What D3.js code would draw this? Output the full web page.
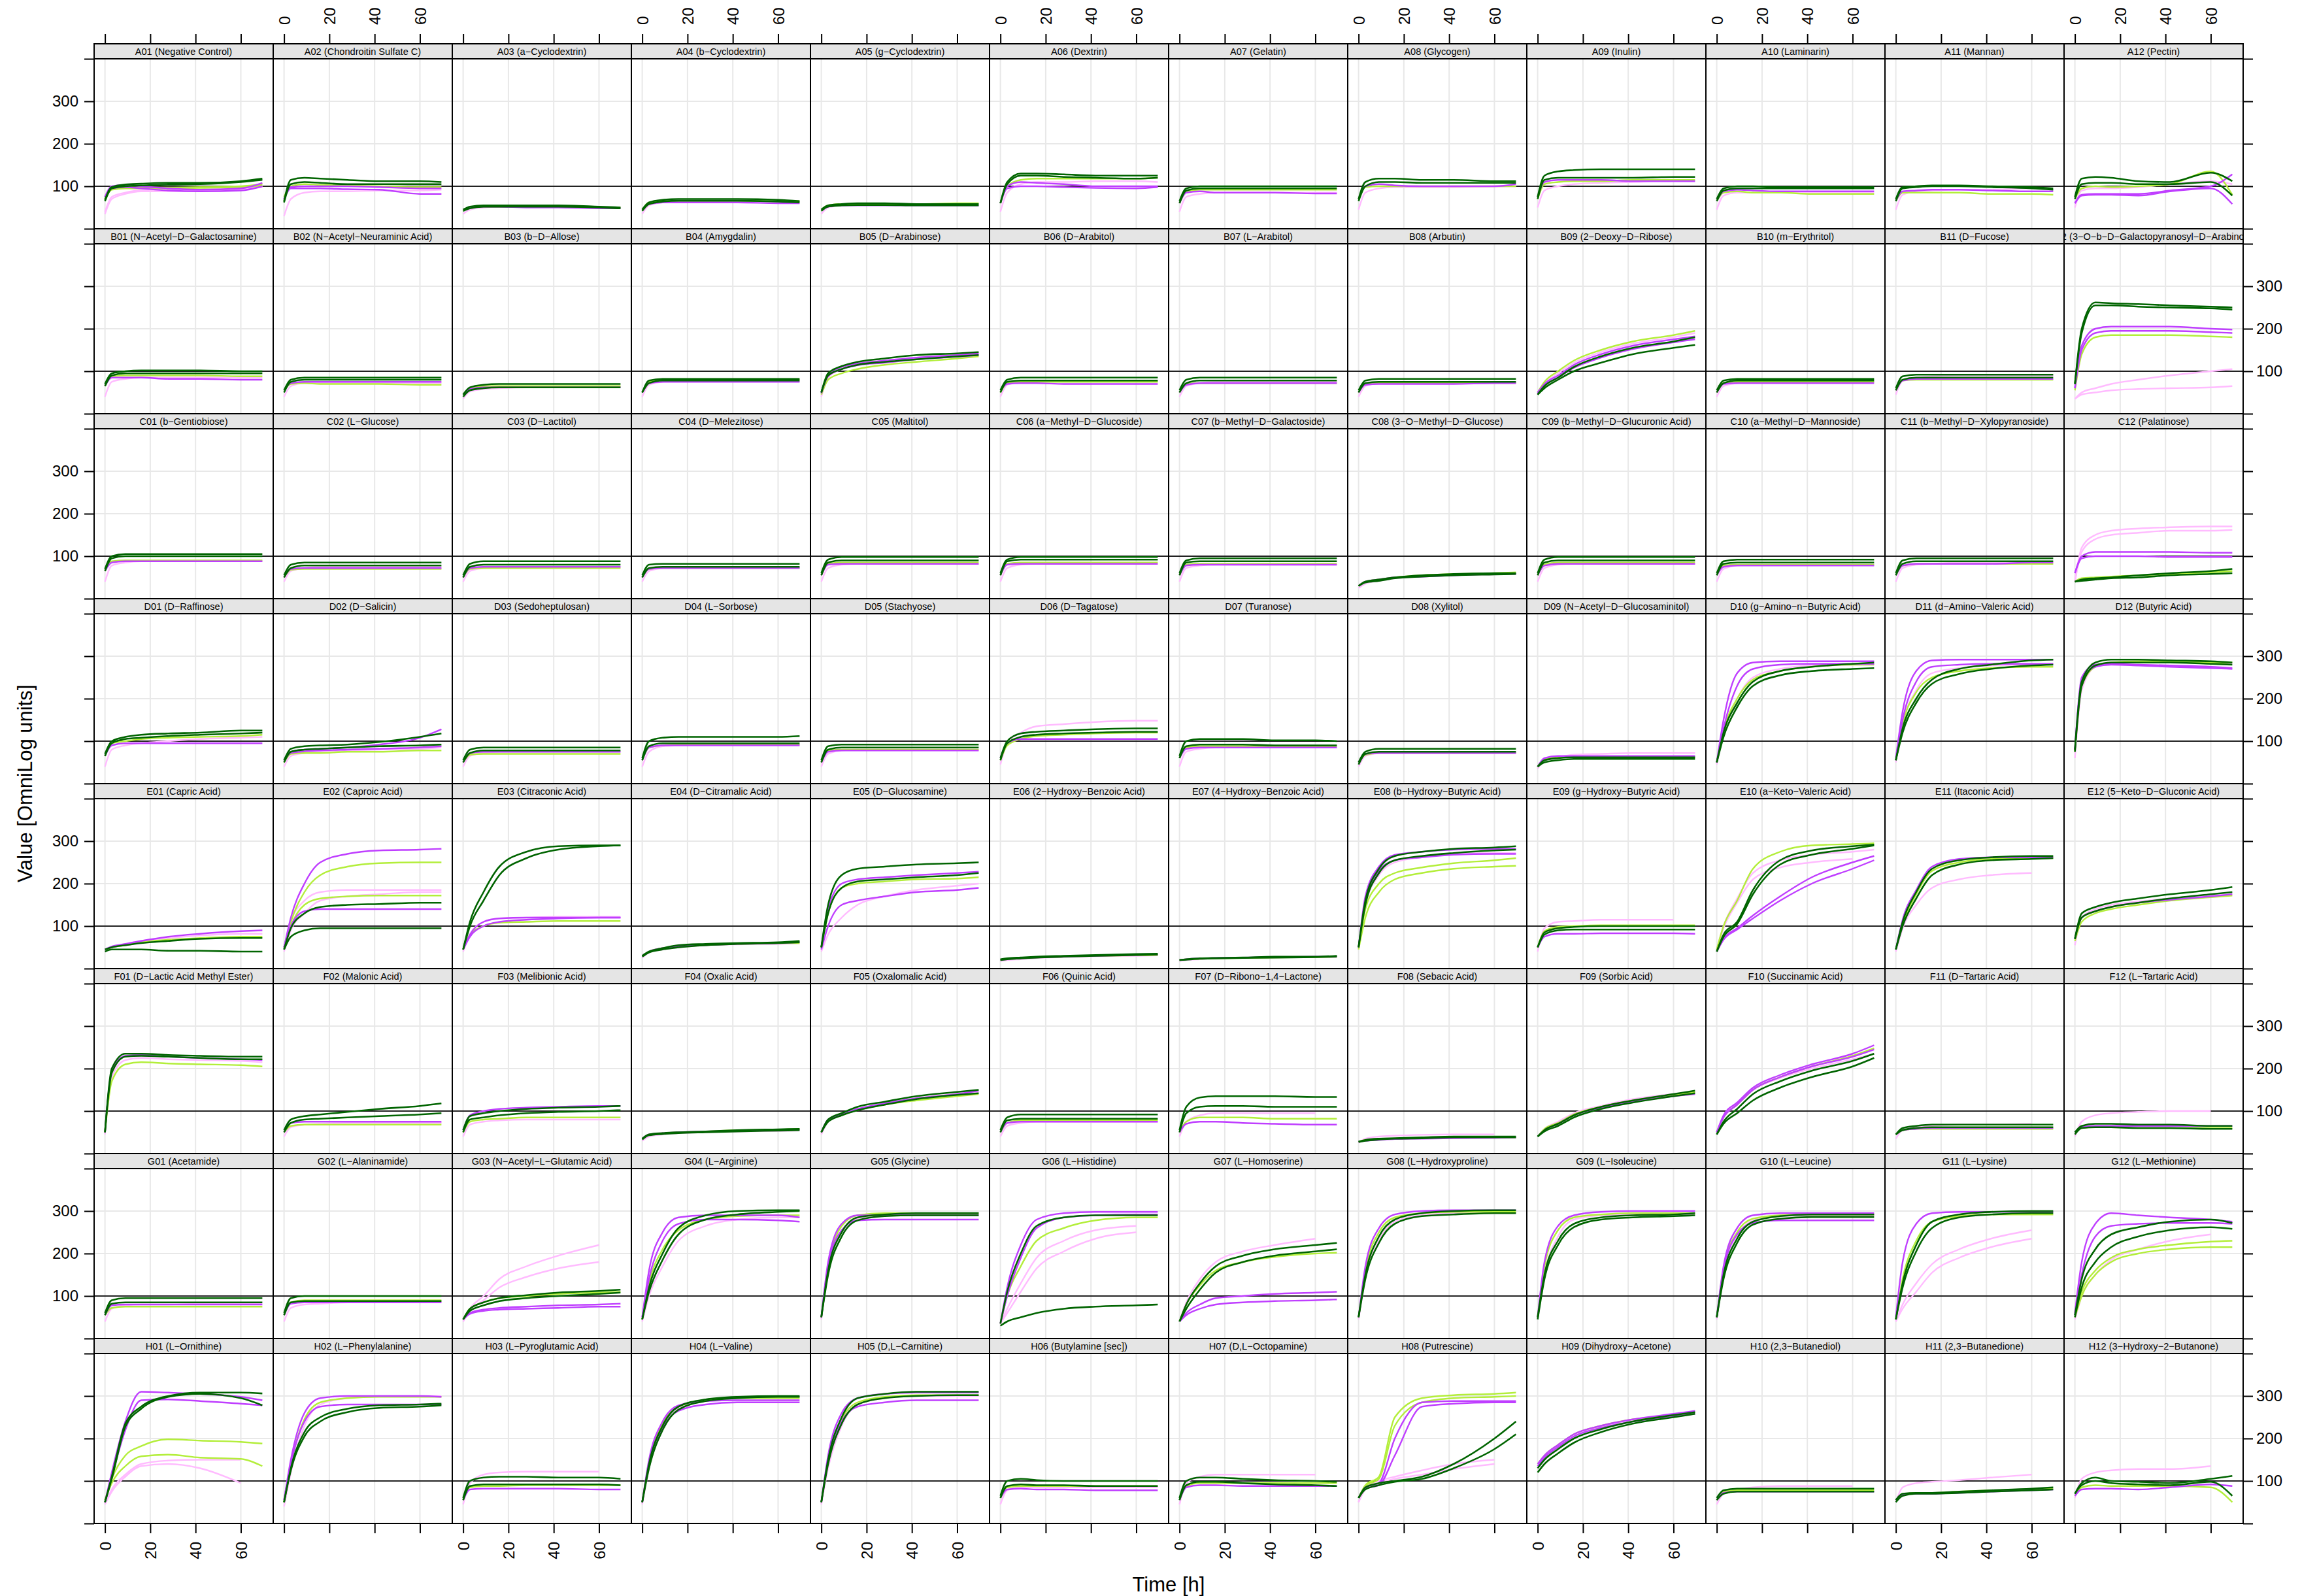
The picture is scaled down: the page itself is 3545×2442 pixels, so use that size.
<!DOCTYPE html>
<html lang="en">
<head>
<meta charset="UTF-8"/>
<title>OmniLog PM02 kinetics</title>
<script src="https://d3js.org/d3.v7.min.js"></script>
<style>
  body { margin: 0; background: #fff; }
  svg { display: block; font-family: "Liberation Sans", Arial, Helvetica, sans-serif; }
</style>
</head>
<body>
<script>

// ---- data (in OmniLog units) ----
var rowLetters = ["A", "B", "C", "D", "E", "F", "G", "H"];
var colNumbers = ["01", "02", "03", "04", "05", "06", "07", "08", "09", "10", "11", "12"];

var substrates = [
  "Negative Control", "Chondroitin Sulfate C", "a\u2212Cyclodextrin", "b\u2212Cyclodextrin", "g\u2212Cyclodextrin", "Dextrin", "Gelatin", "Glycogen", "Inulin", "Laminarin", "Mannan", "Pectin",
  "N\u2212Acetyl\u2212D\u2212Galactosamine", "N\u2212Acetyl\u2212Neuraminic Acid", "b\u2212D\u2212Allose", "Amygdalin", "D\u2212Arabinose", "D\u2212Arabitol", "L\u2212Arabitol", "Arbutin", "2\u2212Deoxy\u2212D\u2212Ribose", "m\u2212Erythritol", "D\u2212Fucose", "3\u2212O\u2212b\u2212D\u2212Galactopyranosyl\u2212D\u2212Arabinose",
  "b\u2212Gentiobiose", "L\u2212Glucose", "D\u2212Lactitol", "D\u2212Melezitose", "Maltitol", "a\u2212Methyl\u2212D\u2212Glucoside", "b\u2212Methyl\u2212D\u2212Galactoside", "3\u2212O\u2212Methyl\u2212D\u2212Glucose", "b\u2212Methyl\u2212D\u2212Glucuronic Acid", "a\u2212Methyl\u2212D\u2212Mannoside", "b\u2212Methyl\u2212D\u2212Xylopyranoside", "Palatinose",
  "D\u2212Raffinose", "D\u2212Salicin", "Sedoheptulosan", "L\u2212Sorbose", "Stachyose", "D\u2212Tagatose", "Turanose", "Xylitol", "N\u2212Acetyl\u2212D\u2212Glucosaminitol", "g\u2212Amino\u2212n\u2212Butyric Acid", "d\u2212Amino\u2212Valeric Acid", "Butyric Acid",
  "Capric Acid", "Caproic Acid", "Citraconic Acid", "D\u2212Citramalic Acid", "D\u2212Glucosamine", "2\u2212Hydroxy\u2212Benzoic Acid", "4\u2212Hydroxy\u2212Benzoic Acid", "b\u2212Hydroxy\u2212Butyric Acid", "g\u2212Hydroxy\u2212Butyric Acid", "a\u2212Keto\u2212Valeric Acid", "Itaconic Acid", "5\u2212Keto\u2212D\u2212Gluconic Acid",
  "D\u2212Lactic Acid Methyl Ester", "Malonic Acid", "Melibionic Acid", "Oxalic Acid", "Oxalomalic Acid", "Quinic Acid", "D\u2212Ribono\u22121,4\u2212Lactone", "Sebacic Acid", "Sorbic Acid", "Succinamic Acid", "D\u2212Tartaric Acid", "L\u2212Tartaric Acid",
  "Acetamide", "L\u2212Alaninamide", "N\u2212Acetyl\u2212L\u2212Glutamic Acid", "L\u2212Arginine", "Glycine", "L\u2212Histidine", "L\u2212Homoserine", "L\u2212Hydroxyproline", "L\u2212Isoleucine", "L\u2212Leucine", "L\u2212Lysine", "L\u2212Methionine",
  "L\u2212Ornithine", "L\u2212Phenylalanine", "L\u2212Pyroglutamic Acid", "L\u2212Valine", "D,L\u2212Carnitine", "Butylamine [sec]", "D,L\u2212Octopamine", "Putrescine", "Dihydroxy\u2212Acetone", "2,3\u2212Butanediol", "2,3\u2212Butanedione", "3\u2212Hydroxy\u22122\u2212Butanone"
];

// measurement times [h] for every value in a curve string
var times = [0, 3, 9, 16, 28, 42, 60, 69.5];

// one entry per well (A01..H12); curves separated by "|", "-" = no reading
var darkGreen = [
  "68 98 104 106 108 108 112 118|65 95 100 102 104 105 110 115", "65 115 120 118 115 112 112 110|62 105 110 108 105 105 105 105", "45 52 55 55 55 55 52 50|42 48 52 52 52 52 50 48", "45 62 68 70 70 70 68 65|42 58 64 66 66 66 64 62", "45 55 58 60 60 58 58 58|42 52 55 56 56 55 55 55", "60 110 130 130 128 125 125 125|60 105 125 125 122 120 118 120", "65 95 100 100 100 100 100 100|60 90 95 95 95 95 95 95", "70 110 118 118 115 115 112 112|65 100 110 110 108 108 108 108", "75 125 135 138 140 140 140 140|70 115 120 120 120 120 122 122", "70 95 100 100 98 98 98 98|65 90 95 95 95 95 95 95", "70 98 100 102 102 100 98 95|65 95 98 100 100 98 95 92", "75 118 122 120 112 110 132 112|70 105 108 108 105 105 110 78",
  "70 95 100 102 102 102 100 100|65 90 95 95 95 95 95 95", "55 80 85 85 85 85 85 85|50 75 80 80 80 80 80 80", "45 62 68 70 70 70 70 70|40 55 60 62 62 62 62 62", "50 78 82 82 82 82 82 82|50 72 78 78 78 78 78 78", "50 95 112 122 130 138 142 145|50 90 105 115 122 128 135 138", "55 80 85 85 85 85 85 85|50 75 78 78 78 78 78 78", "55 80 85 85 85 85 85 85|50 72 78 78 78 78 78 78", "55 78 82 82 82 82 82 82|50 72 75 75 75 75 75 75", "45 65 85 110 135 155 170 180|45 60 80 100 120 140 155 162", "55 78 82 82 82 82 82 82|50 72 78 78 78 78 78 78", "60 88 92 92 92 92 92 92|55 80 85 85 85 85 85 85", "70 200 262 260 258 255 252 250|70 190 255 255 252 250 248 245",
  "70 100 105 105 105 105 105 105|65 95 100 100 100 100 100 100", "55 80 85 85 85 85 85 85|50 72 78 78 78 78 78 78", "55 82 88 88 88 88 88 88|50 75 80 80 80 80 80 80", "55 80 82 82 82 82 82 82|50 72 75 75 75 75 75 75", "60 92 98 98 98 98 98 98|55 85 90 90 90 90 90 90", "60 92 98 98 98 98 98 98|55 88 92 92 92 92 92 92", "60 90 95 95 95 95 95 95|55 85 88 88 88 88 88 88", "30 40 45 50 55 58 60 60|30 38 42 48 52 55 57 58", "60 92 98 98 98 98 98 98|55 85 90 90 90 90 90 90", "60 88 92 92 92 92 92 92|55 82 85 85 85 85 85 85", "60 90 95 95 95 95 95 95|55 82 88 88 88 88 88 88", "40 45 48 50 55 60 65 70|40 42 45 48 50 55 58 60",
  "70 100 110 115 118 120 125 125|65 95 105 108 112 115 118 120", "55 82 88 90 92 98 110 118|50 75 80 82 85 88 90 92", "55 80 85 85 85 85 85 85|50 72 78 78 78 78 78 78", "60 100 108 110 110 110 110 112|55 88 95 95 95 95 95 95", "55 88 92 92 92 92 92 92|50 80 85 85 85 85 85 85", "60 100 118 122 125 128 130 130|55 95 110 115 118 120 122 122", "65 100 105 105 105 102 102 100|60 88 92 92 92 90 90 90", "50 75 82 82 82 82 82 82|45 70 75 75 75 75 75 75", "40 55 60 62 62 62 62 62|40 50 55 58 58 58 58 58", "50 120 190 240 265 275 282 285|50 110 180 230 255 265 270 272", "55 130 200 245 270 280 290 292|55 120 190 235 258 270 278 280", "80 240 285 292 292 290 288 285|75 230 278 285 285 285 282 280",
  "45 50 55 60 65 70 72 72|40 45 45 45 42 42 40 40", "45 75 90 95 95 95 95 95|45 95 130 145 150 152 155 155", "45 110 180 240 275 288 290 290|45 100 160 220 260 280 288 290", "30 40 48 55 58 60 62 65|28 38 45 50 55 58 60 62", "50 150 220 235 240 245 248 250|50 130 190 205 210 215 220 225", "22 24 26 28 30 32 34 35|20 22 24 26 28 30 32 33", "20 22 24 25 26 28 28 30|20 21 23 24 25 26 27 28", "50 160 235 265 275 282 285 288|50 150 225 255 265 272 278 280", "50 85 95 98 100 100 100 100|50 80 90 92 92 92 92 92", "40 80 110 185 255 278 288 292|40 75 105 175 245 268 282 290", "45 110 180 235 255 262 265 265|45 100 165 220 245 255 258 260", "70 130 145 155 165 175 185 192|70 120 135 145 155 165 175 180",
  "50 200 235 235 232 230 228 228|50 190 228 230 228 225 222 222", "55 80 88 92 98 105 112 118|50 72 80 82 85 88 92 95", "55 88 95 100 105 108 110 112|50 80 85 90 95 98 100 102", "35 45 48 50 52 55 57 58|33 43 46 48 50 52 54 55", "50 80 95 110 122 135 145 150|50 75 90 102 115 128 138 142", "55 85 92 92 92 92 92 92|50 78 82 82 82 82 82 82", "55 110 132 135 135 135 133 133|50 95 110 112 112 110 110 110", "28 32 35 36 38 40 40 40|27 30 33 35 36 38 38 38", "40 55 70 90 110 125 140 148|40 52 65 85 105 120 135 142", "45 70 95 125 155 180 205 225|45 75 105 140 170 195 218 235", "45 60 65 68 68 68 68 68|45 55 60 62 62 62 62 62", "50 65 70 70 68 68 65 65|45 60 62 62 60 60 58 58",
  "60 90 95 95 95 95 95 95|55 82 85 85 85 85 85 85", "60 95 100 100 100 100 100 100|55 85 88 88 88 88 88 88", "45 70 85 95 102 108 112 115|45 65 78 88 95 100 105 108", "45 120 200 260 290 300 302 302|45 110 185 245 280 292 298 300", "50 160 250 285 292 295 295 295|50 150 240 278 288 290 290 290", "30 40 50 60 70 75 78 80|35 110 200 265 285 290 290 290", "40 80 130 170 195 210 220 225|40 70 115 155 180 195 205 210", "50 150 240 280 295 300 302 302|50 140 225 270 288 292 295 295", "50 150 230 270 285 290 292 295|45 140 220 262 280 285 288 290", "50 150 235 275 288 292 292 292|50 140 225 268 282 286 286 286", "45 130 220 275 292 298 300 300|45 120 205 260 285 292 295 295", "55 140 210 245 262 275 280 272|50 120 180 215 240 255 262 258",
  "50 110 235 275 300 308 308 306|50 105 228 270 298 305 295 278", "50 130 215 250 270 278 280 282|50 125 205 240 262 272 275 278", "60 100 108 110 110 108 108 105|55 88 92 92 92 92 92 90", "50 140 230 275 292 298 300 300|50 130 220 268 288 295 298 298", "50 150 250 295 305 310 310 310|50 140 235 280 295 300 302 302", "65 100 105 102 100 100 100 100|60 88 92 90 90 88 88 88", "60 100 108 108 105 102 100 98|55 90 98 98 95 92 90 88", "60 85 95 100 110 140 200 240|60 80 90 98 105 130 175 210", "130 150 175 200 222 240 255 262|120 140 165 190 215 235 250 258", "60 78 82 82 82 82 82 82|55 70 75 75 75 75 75 75", "55 70 72 72 75 78 82 85|50 65 70 70 72 75 78 80", "70 95 108 100 98 95 105 112|70 90 100 95 92 90 98 65"
];

var purple = [
  "75 100 103 100 95 92 95 108|75 95 98 95 90 88 90 100", "70 95 95 95 93 92 82 82|70 98 100 100 100 98 95 95", "45 50 52 52 50 50 48 48", "45 58 62 62 62 62 60 60", "45 52 55 55 55 55 55 55", "60 100 110 108 105 100 100 100|60 95 100 100 98 96 95 98", "60 85 88 85 85 85 83 83", "70 100 105 102 100 100 100 105", "75 110 115 115 115 112 112 112", "65 88 92 90 88 88 88 88", "65 88 90 92 92 90 88 88", "60 80 82 82 82 90 100 128|60 78 80 80 78 88 95 58",
  "65 85 85 85 82 82 80 80", "55 72 75 75 75 75 75 75", "45 58 62 62 62 62 62 62", "50 72 75 75 75 75 75 75", "50 92 110 118 125 132 138 142|48 88 105 114 120 128 134 138", "55 70 72 72 70 70 70 70", "50 68 72 72 72 72 72 72", "50 68 70 70 70 70 72 72", "50 70 90 115 140 160 175 182|48 66 85 108 132 152 168 175", "50 70 72 72 72 72 72 72", "55 78 82 82 82 82 82 82", "60 160 200 205 205 205 200 198|60 150 190 195 195 195 192 190",
  "65 85 88 88 88 88 88 88", "50 70 72 72 72 72 72 72", "50 72 75 75 75 75 75 75", "50 70 72 72 72 72 72 72", "55 80 82 82 82 82 82 82", "55 80 82 82 82 82 82 82", "55 78 80 80 80 80 80 80", "30 40 45 50 52 55 58 58", "55 78 82 82 82 82 82 82", "55 75 78 78 78 78 78 78", "55 78 82 82 82 82 85 85", "60 100 110 110 110 110 108 108|60 95 100 100 100 98 98 98",
  "65 90 95 95 95 95 95 95", "55 75 80 82 85 92 108 128|52 72 76 78 80 82 85 88", "50 72 75 75 75 75 75 75", "55 85 90 90 90 90 90 90", "50 75 78 78 78 78 78 78", "60 95 105 105 105 105 105 105", "60 82 85 85 85 85 85 85", "50 70 72 72 72 72 72 72", "40 60 65 65 65 65 65 65", "50 150 260 285 288 288 288 288|50 130 230 270 280 282 282 282", "60 170 265 290 292 292 292 292|55 150 240 275 280 282 282 282", "80 250 280 282 280 278 275 272|80 240 275 280 278 275 272 270",
  "45 52 58 65 75 82 88 90", "50 120 200 250 270 278 280 282|50 100 135 140 140 140 140 140", "45 80 110 118 120 120 120 120|45 75 100 110 115 118 120 120", "30 40 48 52 55 58 60 62", "50 140 200 210 215 220 225 228|45 100 150 160 170 180 185 190", "20 22 24 26 28 30 32 33", "20 22 24 25 26 27 28 29", "50 170 240 268 275 280 282 282|50 160 230 255 262 268 270 270", "50 75 82 82 83 83 83 82", "40 70 95 125 170 215 250 265|40 68 92 118 160 200 235 255", "45 115 185 240 258 262 262 262", "70 120 135 145 155 162 170 175",
  "50 195 230 232 228 225 222 220", "50 72 75 75 75 75 75 75", "55 90 100 105 108 110 112 112", "35 45 48 50 52 54 55 56", "50 80 92 105 118 130 140 148", "50 72 75 75 75 75 75 75", "50 70 75 75 72 70 68 68", "28 30 32 34 35 36 37 38", "40 55 70 90 108 122 135 140", "50 90 120 155 185 210 235 255|50 85 115 150 180 205 228 245", "45 55 58 60 60 60 60 60", "50 62 65 65 65 65 65 65",
  "55 78 80 80 80 80 80 80", "55 82 85 85 85 85 85 85", "45 60 68 72 75 78 80 82|45 58 65 68 70 72 75 75", "50 160 250 285 290 290 290 285|50 140 230 270 280 280 278 275", "50 180 270 290 290 290 290 290|50 170 255 278 280 280 280 280", "35 120 220 280 295 298 298 298|35 100 190 260 285 290 292 292", "40 60 80 95 100 105 108 110|40 55 70 80 85 88 90 92", "50 170 260 292 300 302 302 302", "50 180 265 290 298 300 300 300", "50 170 260 290 295 295 295 295|50 160 245 272 278 278 278 278", "50 180 270 295 298 298 298 298", "60 180 270 295 290 285 280 275|55 150 240 265 270 272 272 270",
  "50 120 240 310 308 305 298 290|50 110 220 290 292 288 282 278", "55 150 260 295 300 300 300 298|55 140 240 275 280 280 280 280", "55 80 82 82 82 82 80 80", "50 150 240 278 288 290 290 290|50 140 225 265 280 285 285 285", "50 160 260 295 305 308 308 308|50 150 240 275 285 290 290 290", "60 80 82 80 80 78 78 78", "55 85 90 90 88 88 88 88", "60 85 95 200 285 288 288 288|60 82 90 160 275 282 285 285", "140 160 185 210 230 245 258 265|135 155 180 205 225 240 252 258", "55 72 75 75 75 75 75 75", "55 68 70 70 72 75 78 80", "65 80 82 82 80 85 92 88"
];

var lime = [
  "75 95 98 97 97 98 100 105|70 92 95 95 95 96 98 102", "75 100 105 103 102 100 98 98", "45 50 52 52 52 52 50 50", "45 62 65 66 66 66 65 65", "45 55 58 58 58 58 60 60", "60 100 115 118 118 118 118 120", "60 88 92 92 92 92 92 92", "70 98 100 100 100 100 100 100", "70 105 110 112 112 115 115 115", "65 85 88 85 85 82 82 82", "65 85 85 85 85 82 82 80", "70 95 100 98 100 105 135 80",
  "65 88 90 90 90 90 88 88", "55 70 72 70 70 70 68 68", "45 60 65 65 65 65 65 65", "50 75 80 80 80 80 80 80", "45 80 95 105 115 122 130 135", "50 72 75 75 75 75 75 75", "50 70 72 72 72 72 72 72", "50 70 72 72 72 72 72 72", "50 75 100 125 150 170 185 195", "50 72 75 75 75 75 75 75", "55 78 80 80 80 80 80 80", "55 140 180 185 185 185 182 180",
  "65 88 90 90 90 90 90 90", "50 68 70 70 70 70 70 70", "50 70 72 72 72 72 72 72", "50 70 72 72 72 72 72 72", "55 82 85 85 85 85 85 85", "55 82 85 85 85 85 85 85", "55 80 82 82 82 82 82 82", "30 40 45 50 55 58 60 62", "55 80 85 85 85 85 85 85", "55 78 80 80 80 80 80 80", "55 78 82 82 82 82 82 82", "40 48 50 52 55 58 62 65",
  "65 95 100 105 108 110 112 115", "50 70 72 72 75 75 78 78", "50 68 70 70 70 70 70 70", "55 85 90 92 92 92 92 92", "50 78 80 80 80 80 80 80", "55 90 105 112 115 118 120 120", "60 85 88 88 88 88 88 88", "50 68 72 72 72 72 72 72", "40 58 62 62 62 62 62 62", "50 125 200 245 265 275 280 280", "55 140 215 250 265 272 275 275", "75 230 275 285 288 288 285 285",
  "45 50 55 62 68 72 75 75", "50 110 180 220 240 248 250 250|50 100 150 165 170 172 172 172", "45 80 100 108 110 112 112 112", "30 40 48 52 55 58 60 60", "50 130 190 200 205 210 212 215", "20 22 24 26 28 30 31 32", "20 22 23 24 25 26 27 28", "50 140 200 225 238 248 255 260|45 120 180 210 225 235 240 242", "50 88 98 100 102 102 102 102", "45 100 160 235 275 290 293 295", "45 105 175 230 250 258 260 260", "65 110 130 140 150 160 168 172",
  "50 170 210 215 212 210 208 205", "50 65 68 68 68 68 68 68", "50 75 80 82 85 85 85 85", "35 45 48 50 52 55 56 58", "50 78 90 102 115 125 135 140", "50 72 78 78 78 78 78 78", "50 75 85 85 85 82 82 82", "28 32 34 35 36 38 38 38", "40 58 72 92 110 125 138 145", "50 85 115 150 180 205 230 248", "45 55 58 58 58 58 58 58", "50 60 62 62 60 60 60 60",
  "55 72 75 75 75 75 75 75", "55 85 90 90 90 90 90 90", "45 70 85 95 100 105 108 110", "45 130 210 255 280 288 290 290", "50 170 265 290 295 295 295 295", "35 100 170 230 260 278 285 285", "40 80 125 160 180 192 200 202", "50 160 250 285 295 298 298 298", "50 170 255 285 292 295 295 295", "50 165 250 282 290 292 292 292", "45 140 230 275 288 292 292 292", "55 110 160 190 210 220 228 230|50 100 150 180 200 210 215 215",
  "55 105 160 182 198 195 192 188|55 95 135 158 162 155 152 135", "50 140 245 285 295 298 298 298", "55 85 88 88 90 90 90 90", "50 145 235 275 290 295 295 295", "50 150 245 285 298 302 302 302", "60 85 88 88 88 88 88 88", "55 88 95 95 95 95 95 95", "60 90 110 250 295 302 305 308|60 88 105 230 285 295 298 300", "140 160 185 210 230 245 255 262", "55 75 78 78 78 78 78 78", "55 68 72 72 75 78 80 82", "65 85 90 88 88 88 85 50"
];

var pink = [
  "40 75 85 90 90 92 95 100|35 70 82 88 88 90 93 98", "30 70 85 88 88 90 90 92", "35 45 50 52 52 52 50 50", "35 55 62 65 65 65 64 62", "35 50 55 56 56 56 56 56", "40 85 105 110 110 112 112 110", "40 75 82 85 85 85 85 85", "45 85 95 98 98 98 100 100", "50 90 100 105 108 110 112 112", "45 78 85 85 85 85 85 85", "45 80 88 90 92 92 95 92", "50 90 95 95 98 105 112 105",
  "40 75 82 85 85 85 85 85", "40 65 72 72 72 72 72 72", "35 52 58 60 62 62 62 62", "40 68 75 78 78 78 78 78", "40 85 105 118 125 132 138 140", "40 68 75 78 78 78 78 78", "40 65 72 75 75 75 75 75", "40 65 72 75 75 75 75 75", "45 70 95 120 145 165 180 190", "40 65 72 75 75 75 75 75", "45 78 85 88 90 90 90 90", "35 50 60 70 80 90 100 105|35 45 50 55 58 60 62 65",
  "40 78 85 88 88 88 88 88", "40 65 72 75 75 75 75 75", "40 65 72 75 75 75 75 75", "40 65 72 75 75 75 75 75", "40 72 80 82 82 82 82 82", "40 72 80 82 82 82 82 82", "40 72 78 80 80 80 80 80", "25 35 42 48 52 55 57 58", "40 72 80 82 82 82 82 82", "40 70 78 80 80 80 80 80", "40 72 80 82 85 85 85 85", "40 120 150 160 165 168 170 170|40 110 140 150 155 160 160 162",
  "40 80 90 95 100 105 108 110", "40 65 72 75 78 80 82 85", "40 65 72 75 75 75 75 75", "40 75 88 90 92 92 92 92", "40 70 78 80 80 80 80 80", "45 95 120 135 140 145 148 148", "40 75 82 85 85 85 85 85", "40 65 72 75 75 75 75 75", "35 55 62 68 70 72 72 72", "45 120 200 250 270 278 280 280", "50 140 220 260 272 278 280 280", "60 220 275 285 285 285 285 282",
  "40 50 58 65 72 78 82 82", "45 110 160 180 185 185 185 185|40 90 130 160 170 175 180 180", "40 80 110 118 120 122 122 122", "25 38 45 50 55 57 58 60", "40 80 120 150 170 185 195 200", "18 20 22 25 27 29 30 31", "18 20 22 24 25 26 27 27", "45 150 220 250 262 270 272 272", "40 95 110 112 115 115 115 -", "45 100 165 225 255 268 275 280|45 95 155 210 238 250 258 -", "40 95 150 190 210 220 225 -", "55 120 140 150 158 165 172 175",
  "45 180 220 225 222 220 218 215", "40 62 68 70 72 72 72 72", "40 68 75 78 80 80 80 80", "30 40 45 48 50 52 53 54", "45 75 90 105 118 130 140 145", "40 65 72 75 75 75 75 75", "40 75 90 95 95 95 95 -", "25 35 40 42 44 45 45 -", "40 58 75 95 112 128 140 145", "50 88 118 150 178 200 222 235", "35 55 62 65 68 68 70 -", "40 75 90 95 98 100 100 -",
  "40 70 78 80 80 82 82 82", "40 72 80 82 85 85 85 85", "40 70 100 140 170 195 220 -|40 65 90 120 145 165 180 -", "40 100 170 230 265 280 285 285", "45 160 250 282 290 292 292 292", "35 70 130 190 230 255 265 -|35 60 110 165 205 235 250 -", "40 85 140 180 205 220 235 -", "45 140 230 275 290 295 295 295", "45 150 240 280 290 292 292 292", "45 150 240 278 288 290 290 290", "40 80 130 175 210 235 255 -|40 70 110 155 190 215 235 -", "45 100 150 185 210 230 245 -",
  "45 80 115 140 148 150 150 -|45 75 110 135 140 130 95 -", "40 120 230 280 295 300 300 300", "45 95 115 120 122 122 122 -", "45 130 220 270 288 295 298 298", "45 130 230 280 295 300 300 300", "45 78 85 85 85 85 85 85", "45 95 110 115 115 115 115 -", "50 85 100 110 125 140 150 -|50 80 95 105 115 128 140 -", "130 155 180 205 228 245 255 -", "45 70 80 85 88 88 88 -", "50 85 95 98 102 108 115 -", "60 105 120 125 128 128 135 -"
];

var xTicks = [0, 20, 40, 60];
var yTicks = [0, 100, 200, 300, 400];
var yTickLabels = [100, 200, 300];

// ---- layout ----
var W = 3545, H = 2442;
var marginLeft = 144, marginTop = 67;
var panelW = 274, panelH = 283, stripH = 23;
var plotH = panelH - stripH;
var nRows = rowLetters.length, nCols = colNumbers.length;

var series = [
  { values: pink, color: "#FFBBFF", width: 2.4 },
  { values: lime, color: "#B3EE3A", width: 2.4 },
  { values: purple, color: "#BF3EFF", width: 2.4 },
  { values: darkGreen, color: "#006400", width: 2.6 }
];

function parseCurves(s) {
  return s.split("|").map(function(c) {
    return c.split(" ").map(function(v, i) {
      return [times[i], v === "-" ? null : +v];
    });
  });
}

var xScale = d3.scaleLinear().domain([-4.8, 74.3]).range([0, panelW]);
var yScale = d3.scaleLinear().domain([0, 400]).range([plotH, 0]);

var line = d3.line()
  .defined(function(d) { return d[1] !== null; })
  .x(function(d) { return xScale(d[0]); })
  .y(function(d) { return yScale(d[1]); })
  .curve(d3.curveMonotoneX);

var svg = d3.select("body").append("svg")
  .attr("width", W)
  .attr("height", H);

svg.append("rect").attr("width", W).attr("height", H).attr("fill", "#fff");

var defs = svg.append("defs");
defs.append("clipPath").attr("id", "clipStrip")
  .append("rect").attr("width", panelW).attr("height", stripH);
defs.append("clipPath").attr("id", "clipPlot")
  .append("rect").attr("width", panelW).attr("height", plotH);

for (var r = 0; r < nRows; r++) {
  for (var c = 0; c < nCols; c++) {
    var idx = r * nCols + c;
    var px = marginLeft + c * panelW, py = marginTop + r * panelH;
    var panel = svg.append("g").attr("transform", "translate(" + px + "," + py + ")");

    // strip
    panel.append("rect")
      .attr("width", panelW).attr("height", stripH)
      .attr("fill", "#e5e5e5");
    panel.append("text")
      .attr("clip-path", "url(#clipStrip)")
      .attr("x", panelW / 2).attr("y", stripH / 2)
      .attr("dy", "0.36em")
      .attr("text-anchor", "middle")
      .attr("font-size", 14.6)
      .attr("fill", "#000")
      .text(rowLetters[r] + colNumbers[c] + " (" + substrates[idx] + ")");
    panel.append("rect")
      .attr("width", panelW).attr("height", stripH)
      .attr("fill", "none").attr("stroke", "#000").attr("stroke-width", 2);

    var plot = panel.append("g").attr("transform", "translate(0," + stripH + ")");

    plot.selectAll(".vgrid").data(xTicks).enter().append("line")
      .attr("x1", function(d) { return xScale(d); })
      .attr("x2", function(d) { return xScale(d); })
      .attr("y1", 0).attr("y2", plotH)
      .attr("stroke", "#e8e8e8").attr("stroke-width", 2);
    plot.selectAll(".hgrid").data(yTickLabels).enter().append("line")
      .attr("x1", 0).attr("x2", panelW)
      .attr("y1", function(d) { return yScale(d); })
      .attr("y2", function(d) { return yScale(d); })
      .attr("stroke", "#e8e8e8").attr("stroke-width", 2);

    // reference line at 100
    plot.append("line")
      .attr("x1", 0).attr("x2", panelW)
      .attr("y1", yScale(100)).attr("y2", yScale(100))
      .attr("stroke", "#222").attr("stroke-width", 2);

    var curves = plot.append("g").attr("clip-path", "url(#clipPlot)");
    series.forEach(function(s) {
      curves.selectAll(null)
        .data(parseCurves(s.values[idx]))
        .enter()
        .append("path")
        .attr("d", line)
        .attr("fill", "none")
        .attr("stroke", s.color)
        .attr("stroke-width", s.width)
        .attr("stroke-linejoin", "round");
    });

    plot.append("rect")
      .attr("width", panelW).attr("height", plotH)
      .attr("fill", "none").attr("stroke", "#000").attr("stroke-width", 2);
  }
}

// ---- axes (lattice style, alternating labels) ----
function styleAxis(g) {
  g.select(".domain").remove();
  g.selectAll(".tick line").attr("stroke", "#000").attr("stroke-width", 2);
  g.selectAll(".tick text").attr("font-size", 24).attr("fill", "#000")
    .attr("font-family", "\"Liberation Sans\", Arial, sans-serif");
}

for (var c = 0; c < nCols; c++) {
  var cx = marginLeft + c * panelW;
  var topAxis = svg.append("g")
    .attr("transform", "translate(" + cx + "," + marginTop + ")")
    .call(d3.axisTop(xScale).tickValues(xTicks).tickSize(15)
      .tickFormat(c % 2 === 1 ? d3.format("d") : function() { return ""; }));
  styleAxis(topAxis);
  topAxis.selectAll(".tick text")
    .attr("transform", "rotate(-90)")
    .attr("x", 29).attr("y", 0).attr("dy", "0.36em")
    .attr("text-anchor", "start");

  var bottomAxis = svg.append("g")
    .attr("transform", "translate(" + cx + "," + (marginTop + nRows * panelH) + ")")
    .call(d3.axisBottom(xScale).tickValues(xTicks).tickSize(15)
      .tickFormat(c % 2 === 0 ? d3.format("d") : function() { return ""; }));
  styleAxis(bottomAxis);
  bottomAxis.selectAll(".tick text")
    .attr("transform", "rotate(-90)")
    .attr("x", -28).attr("y", 0).attr("dy", "0.36em")
    .attr("text-anchor", "end");
}

function labelFormat(show) {
  return function(d) { return show && yTickLabels.indexOf(d) >= 0 ? d : ""; };
}

for (var r = 0; r < nRows; r++) {
  var ry = marginTop + r * panelH + stripH;
  var showLeft = r % 2 === 0;
  var leftAxis = svg.append("g")
    .attr("transform", "translate(" + marginLeft + "," + ry + ")")
    .call(d3.axisLeft(yScale).tickValues(yTicks).tickSize(15).tickPadding(9)
      .tickFormat(labelFormat(showLeft)));
  styleAxis(leftAxis);

  var rightAxis = svg.append("g")
    .attr("transform", "translate(" + (marginLeft + nCols * panelW) + "," + ry + ")")
    .call(d3.axisRight(yScale).tickValues(yTicks).tickSize(15).tickPadding(5)
      .tickFormat(labelFormat(!showLeft)));
  styleAxis(rightAxis);
}

// axis titles
svg.append("text")
  .attr("transform", "translate(38," + (marginTop + nRows * panelH / 2) + ") rotate(-90)")
  .attr("dy", "0.36em")
  .attr("text-anchor", "middle")
  .attr("font-size", 31)
  .text("Value [OmniLog units]");

svg.append("text")
  .attr("x", marginLeft + nCols * panelW / 2)
  .attr("y", 2435)
  .attr("text-anchor", "middle")
  .attr("font-size", 31)
  .text("Time [h]");

</script>
</body>
</html>
